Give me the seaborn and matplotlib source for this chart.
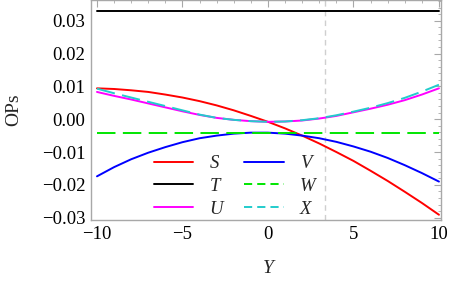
import numpy as np
import pandas as pd
import matplotlib
matplotlib.use("Agg")
import matplotlib.pyplot as plt
import seaborn as sns
from matplotlib.ticker import MultipleLocator, FuncFormatter

# ---- data ----
Y = [-10, -9, -8, -7, -6, -5, -4, -3, -2, -1, 0, 1, 2, 3, 4, 5, 6, 7, 8, 9, 10]
S = [0.0094, 0.0092, 0.0088, 0.0083, 0.0075, 0.0066, 0.0055, 0.0042, 0.0027, 0.0010,
     -0.0008, -0.0028, -0.0050, -0.0074, -0.0100, -0.0127, -0.0157, -0.0188, -0.0221, -0.0255, -0.0291]
T = [0.0330] * 21
U = [0.0083, 0.0071, 0.0060, 0.0048, 0.0036, 0.0024, 0.0013, 0.0004, -0.0002, -0.0006,
     -0.0008, -0.0007, -0.0004, 0.0002, 0.0010, 0.0021, 0.0032, 0.0044, 0.0058, 0.0075, 0.0094]
V = [-0.0174, -0.0146, -0.0122, -0.0102, -0.0085, -0.0070, -0.0058, -0.0050, -0.0044, -0.0041,
     -0.0041, -0.0044, -0.0050, -0.0058, -0.0069, -0.0083, -0.0099, -0.0118, -0.0140, -0.0164, -0.0190]
W = [-0.0042] * 21
X = [0.0093, 0.0079, 0.0066, 0.0053, 0.0040, 0.0027, 0.0014, 0.0004, -0.0002, -0.0006,
     -0.0008, -0.0007, -0.0003, 0.0003, 0.0012, 0.0023, 0.0035, 0.0049, 0.0065, 0.0084, 0.0105]
series_names = ["S", "T", "U", "V", "W", "X"]
series_values = [S, T, U, V, W, X]
marker_x = 10 / 3

# ---- styles ----
colors = {"S": "#ff0000", "T": "#000000", "U": "#ff00ff",
          "V": "#0000ff", "W": "#00e600", "X": "#22cccc"}
dashed = {"S": False, "T": False, "U": False, "V": False, "W": True, "X": True}

sns.set_theme(style="white")
plt.rcParams["font.family"] = ["Liberation Serif", "DejaVu Serif"]
plt.rcParams["mathtext.fontset"] = "dejavuserif"

fig = plt.figure(figsize=(4.5, 2.83), dpi=100)
ax = fig.add_axes([91 / 450, 1 - 220 / 283, 350 / 450, 220 / 283])

frames = []
for name, vals in zip(series_names, series_values):
    frames.append(pd.DataFrame({"Y": Y, "value": vals, "series": name}))
df = pd.concat(frames, ignore_index=True)

lw = 1.4
ax.axvline(marker_x, color="#cfcfcf", lw=1.0, dashes=(4, 3), zorder=1)
for name in series_names:
    sub = df[df["series"] == name]
    sns.lineplot(data=sub, x="Y", y="value", ax=ax, color=colors[name], lw=lw,
                 label=name, estimator=None, sort=True, zorder=3)
    if dashed[name]:
        ax.lines[-1].set_dashes((9.5, 3.8))

ax.set_xlim(-10.35, 10.12)
ax.set_ylim(-0.0307, 0.0363)

ax.xaxis.set_major_locator(MultipleLocator(5))
ax.xaxis.set_minor_locator(MultipleLocator(1))
ax.yaxis.set_major_locator(MultipleLocator(0.01))
ax.yaxis.set_minor_locator(MultipleLocator(0.002))
ax.xaxis.set_major_formatter(FuncFormatter(lambda v, p: f"{v:g}".replace("-", "\u2212")))
ax.yaxis.set_major_formatter(FuncFormatter(
    lambda v, p: (f"{v:.2f}" if abs(v) > 1e-9 else "0.00").replace("-", "\u2212")))

frame_col = "#a8a8a8"
for sp in ax.spines.values():
    sp.set_visible(True)
    sp.set_color(frame_col)
    sp.set_linewidth(1.0)
ax.tick_params(which="both", direction="in", top=True, right=True,
               color=frame_col, labelcolor="black", labelsize=13.5)
ax.tick_params(which="major", length=5, width=0.8, pad=4)
ax.tick_params(which="minor", length=2.5, width=0.6)
ax.tick_params(axis="x", which="both", labeltop=False)
ax.tick_params(axis="y", which="both", labelright=False)

ax.set_xlabel("Y", fontsize=14, style="italic")
ax.set_ylabel("OPs", fontsize=14)
ax.xaxis.set_label_coords(0.506, -0.183)
ax.yaxis.set_label_coords(-0.196, 0.5)
ax.grid(False)

leg = ax.legend(ncol=2, frameon=False, loc="upper left",
                bbox_to_anchor=(154 / 450, 1 - 155 / 283), bbox_transform=fig.transFigure,
                borderpad=0, borderaxespad=0, handlelength=2.1, handletextpad=0.85,
                columnspacing=1.15, labelspacing=0.3, prop={"size": 13.5, "style": "italic"})
for line, text in zip(leg.get_lines(), leg.get_texts()):
    if dashed[text.get_text()]:
        line.set_dashes((4.2, 2.6))

fig.savefig("out.png", dpi=100)
